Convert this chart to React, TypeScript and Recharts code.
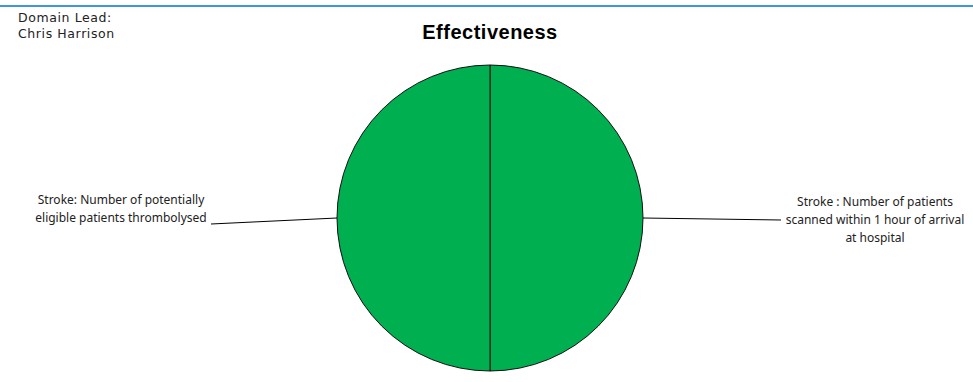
import React from 'react';
import { PieChart, Pie, Cell } from 'recharts';

const categories = [
  'Stroke : Number of patients scanned within 1 hour of arrival at hospital',
  'Stroke: Number of potentially eligible patients thrombolysed',
];
const values = [1, 1];
const labelLines = [
  ['Stroke : Number of patients', 'scanned within 1 hour of arrival', 'at hospital'],
  ['Stroke: Number of potentially', 'eligible patients thrombolysed'],
];
const colors = ['#00B050', '#00B050'];

const data = categories.map((name, i) => ({ name, value: values[i], lines: labelLines[i] }));

const RAD = Math.PI / 180;

const renderLabel = (props: any) => {
  const { cx, cy, midAngle, outerRadius, index } = props;
  const cos = Math.cos(-midAngle * RAD);
  const sin = Math.sin(-midAngle * RAD);
  const sx = cx + outerRadius * cos;
  const sy = cy + outerRadius * sin;
  const right = cos >= 0;
  const lines: string[] = data[index].lines;
  const ex = right ? sx + 138 : sx - 126;
  const ey = right ? sy + 2 : sy + 6;
  const tx = right ? ex + 94 : ex - 90;
  const lh = 18;
  const ty0 = right ? ey - 14 : ey - 20;
  return (
    <g>
      <polyline points={`${sx},${sy} ${ex},${ey}`} stroke="#000" strokeWidth={1} fill="none" />
      <text
        x={tx}
        y={ty0}
        textAnchor="middle"
        fontFamily="'Noto Sans', 'Liberation Sans', sans-serif"
        fontSize={12}
        fill="#222"
      >
        {lines.map((l, i) => (
          <tspan key={i} x={tx} dy={i === 0 ? 0 : lh}>
            {l}
          </tspan>
        ))}
      </text>
    </g>
  );
};

export default function App() {
  return (
    <div style={{ position: 'absolute', left: 0, top: 0, width: 973, height: 382, background: '#fff' }}>
      <div style={{ position: 'absolute', left: 0, top: 5, width: 973, height: 2, background: '#3C96E0' }} />
      <div
        style={{
          position: 'absolute',
          left: 18,
          top: 10,
          fontFamily: "'DejaVu Sans', sans-serif",
          fontSize: 12.5,
          lineHeight: '16px',
          color: '#222',
          letterSpacing: 0.6,
        }}
      >
        Domain Lead:
        <br />
        Chris Harrison
      </div>
      <div
        style={{
          position: 'absolute',
          left: 0,
          width: 980,
          top: 21,
          textAlign: 'center',
          fontFamily: "'Liberation Sans', Arial, sans-serif",
          fontWeight: 'bold',
          fontSize: 20,
          letterSpacing: 0.5,
          color: '#000',
        }}
      >
        Effectiveness
      </div>
      <PieChart
        width={973}
        height={382}
        margin={{ top: 0, right: 0, bottom: 0, left: 0 }}
        style={{ position: 'absolute', left: 0, top: 0 }}
      >
        <Pie
          data={data}
          dataKey="value"
          nameKey="name"
          cx={490}
          cy={218}
          outerRadius={153}
          startAngle={90}
          endAngle={-270}
          stroke="#111"
          strokeWidth={1}
          label={renderLabel}
          labelLine={false}
          isAnimationActive={false}
        >
          {data.map((d, i) => (
            <Cell key={d.name} fill={colors[i]} />
          ))}
        </Pie>
      </PieChart>
    </div>
  );
}
